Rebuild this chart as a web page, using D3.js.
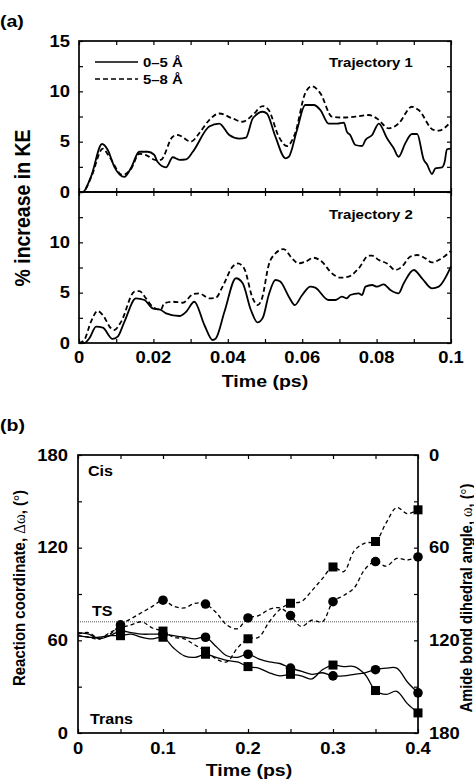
<!DOCTYPE html>
<html>
<head>
<meta charset="utf-8">
<script src="https://cdn.jsdelivr.net/npm/d3@7"></script>
<style>
  body { margin: 0; background: #fff; }
  svg { display: block; font-family: "Liberation Sans", Arial, sans-serif; font-weight: bold; }
</style>
</head>
<body>
<div id="chart"></div>
<script>
// ---- panel (a): % increase in KE, [time (ps), value]
const traj1Inner = [[0,0],[0.001,0],[0.0032,1.5],[0.0062,4.77],[0.0077,4.2],[0.0095,2.5],[0.0122,1.5],[0.014,2.4],[0.0162,4.0],[0.0185,4.0],[0.0202,3.7],[0.0211,3.0],[0.0234,2.45],[0.0252,3.45],[0.027,3.2],[0.0288,3.25],[0.0306,4.0],[0.035,6.5],[0.0377,6.8],[0.0404,5.66],[0.0431,5.3],[0.0449,5.4],[0.0467,7.3],[0.0494,7.97],[0.0505,7.8],[0.0528,5.5],[0.0555,3.35],[0.0564,3.5],[0.0586,6.16],[0.0608,8.64],[0.0631,8.64],[0.0649,8.14],[0.0671,6.8],[0.0694,6.8],[0.0712,6.9],[0.072,6.0],[0.0729,5.66],[0.0743,4.67],[0.0761,4.57],[0.077,5.16],[0.0788,5.66],[0.0806,6.8],[0.0828,5.33],[0.0846,4.34],[0.0859,3.5],[0.0877,4.83],[0.0895,5.76],[0.0909,5.76],[0.0927,3.18],[0.0935,2.78],[0.0949,1.79],[0.0958,2.35],[0.0976,2.45],[0.0983,3.0],[0.0989,4.24],[0.1,4.3]];
const traj1Outer = [[0,0],[0.001,0],[0.0032,1.4],[0.0064,4.3],[0.008,3.6],[0.0117,1.69],[0.014,2.3],[0.0162,3.8],[0.018,3.67],[0.0207,3.18],[0.022,3.2],[0.0252,5.5],[0.0265,5.66],[0.0301,5.0],[0.0323,5.83],[0.035,7.15],[0.0377,7.8],[0.0413,7.3],[0.044,6.98],[0.0467,7.65],[0.0494,8.54],[0.051,8.14],[0.0537,5.5],[0.0559,4.57],[0.0581,5.83],[0.0608,9.8],[0.0626,10.5],[0.0649,9.8],[0.068,7.48],[0.0707,7.4],[0.0743,7.48],[0.0779,7.65],[0.0801,7.3],[0.0833,6.32],[0.0859,6.8],[0.0895,8.47],[0.0913,8.14],[0.0953,6.16],[0.0967,6.1],[0.1,7.0]];
const traj2Inner = [[0,0],[0.0014,0],[0.0028,0.47],[0.0046,1.62],[0.0064,1.52],[0.009,0.4],[0.0104,0.63],[0.0122,2.1],[0.0153,4.44],[0.0176,4.27],[0.0198,3.44],[0.022,3.28],[0.0234,2.95],[0.027,2.68],[0.0288,3.1],[0.031,4.1],[0.0337,1.79],[0.0359,0.3],[0.0368,0.47],[0.0391,3.1],[0.0422,6.43],[0.044,5.93],[0.0462,3.28],[0.048,2.05],[0.0494,2.5],[0.051,4.77],[0.0528,6.26],[0.0541,6.1],[0.0564,4.6],[0.058,3.77],[0.06,4.77],[0.0622,5.6],[0.0635,5.5],[0.0671,4.27],[0.0689,4.27],[0.0707,4.6],[0.072,4.44],[0.0729,4.77],[0.0752,4.93],[0.0761,4.77],[0.077,5.6],[0.0788,5.76],[0.0801,5.6],[0.0819,5.83],[0.0837,5.26],[0.0859,4.93],[0.0873,5.93],[0.09,7.25],[0.0922,6.43],[0.0949,5.43],[0.0967,5.6],[0.1,7.6]];
const traj2Outer = [[0,0],[0.0014,0.3],[0.0032,2.1],[0.005,3.18],[0.0064,2.78],[0.0086,1.46],[0.0095,1.29],[0.0113,2.1],[0.0149,5.1],[0.0162,5.16],[0.018,4.44],[0.0198,3.6],[0.022,3.3],[0.0229,3.94],[0.0252,4.1],[0.0279,4.0],[0.0306,4.84],[0.0323,4.93],[0.035,4.44],[0.0368,4.5],[0.0386,5.6],[0.0413,7.58],[0.0427,7.9],[0.0444,7.4],[0.0467,4.44],[0.048,3.77],[0.0492,4.44],[0.051,7.75],[0.0528,8.9],[0.055,9.33],[0.0573,8.4],[0.059,7.9],[0.0608,8.07],[0.0631,8.47],[0.0653,8.07],[0.068,6.92],[0.0702,6.49],[0.0725,6.59],[0.0752,7.42],[0.0779,8.67],[0.0788,8.67],[0.0806,8.24],[0.0828,7.9],[0.085,7.25],[0.0868,7.58],[0.089,8.57],[0.0909,8.74],[0.0931,8.41],[0.0949,8.0],[0.0967,8.24],[0.1,9.14]];
const legendLabels = ["0\u20135 \u00c5", "5\u20138 \u00c5"];
const panelTitles = ["Trajectory 1", "Trajectory 2"];
const xTicksA = [0, 0.02, 0.04, 0.06, 0.08, 0.1];

// ---- panel (b): reaction coordinate (deg) sampled every 0.0125 ps
const timeB = [0,0.0125,0.025,0.0375,0.05,0.0625,0.075,0.0875,0.1,0.1125,0.125,0.1375,0.15,0.1625,0.175,0.1875,0.2,0.2125,0.225,0.2375,0.25,0.2625,0.275,0.2875,0.3,0.3125,0.325,0.3375,0.35,0.3625,0.375,0.3875,0.4];
const cisCircle  = [64,65,61,64,70,74,78,82,86,82,81,84,83.5,78,70,67.5,74.5,76,80,81,76,69,73,72,85,89,94,106,111,108,113,112,114];
const cisSquare  = [63,62,61,65,68,70,72,68,66,62,61,57,53,48,46,55,61,62,72,80,84,85,92,100,107.5,104.5,118,123,124,136,146,142,144.5];
const transCircle = [65,64,61,63,66,65,64,64,64,63,62,61,62,56,50,49,51,48,46,45,42,40,38,39,37,37,38,39,41,42,42,33,26];
const transSquare = [63,62,62,63,63,64,62,61,62,55,50,49,51,49,47,46,43,42,39,37,38,37,35,41,44,43,43,38,27.5,25,27,19,13];
const markerTimes = [0.05, 0.1, 0.15, 0.2, 0.25, 0.3, 0.35, 0.4];
const tsValue = 72;
const xTicksB = [0, 0.1, 0.2, 0.3, 0.4];
const yTicksB = [0, 60, 120, 180];

const W = 474, H = 779;
const SX = 1.15; // the original lettering is a little wide
const svg = d3.select("#chart").append("svg")
  .attr("width", W).attr("height", H)
  .attr("viewBox", `0 0 ${W} ${H}`);

const fmt = d => String(+d.toFixed(2));

// horizontal label, slightly stretched
function label(x, y, txt, size, anchor) {
  return svg.append("text")
    .attr("transform", `translate(${x},${y}) scale(${SX},1)`)
    .attr("text-anchor", anchor || "start")
    .attr("font-size", size)
    .text(txt);
}

// ---------- panel (a)
const xA = d3.scaleLinear().domain([0, 0.1]).range([79, 451]);
const yTop = d3.scaleLinear().domain([0, 15]).range([192, 41]);
const yBot = d3.scaleLinear().domain([0, 15]).range([343, 192]);
const minorA = d3.range(0, 0.1001, 0.01);
const minorY = d3.range(0, 15.01, 2.5);

label(0, 27, "(a)", 17);

function tickAxis(axis, ticks, size) {
  return axis.tickValues(ticks).tickSize(size).tickFormat("");
}

function framePanel(y, showTopLabel) {
  const g = svg.append("g");
  const [y0, y1] = y.range();
  // inward ticks on all sides
  g.append("g").attr("transform", `translate(0,${y0})`)
    .call(tickAxis(d3.axisTop(xA), minorA, 4));
  g.append("g").attr("transform", `translate(0,${y1})`)
    .call(tickAxis(d3.axisBottom(xA), minorA, 4));
  g.append("g").attr("transform", `translate(${xA.range()[0]},0)`)
    .call(tickAxis(d3.axisRight(y), minorY, 4));
  g.append("g").attr("transform", `translate(${xA.range()[1]},0)`)
    .call(tickAxis(d3.axisLeft(y), minorY, 4));
  g.selectAll(".domain").remove();
  g.selectAll(".tick line").attr("stroke", "#000").attr("stroke-width", 1.2);

  const labels = showTopLabel ? [0, 5, 10, 15] : [0, 5, 10];
  labels.forEach(d => label(70, y(d) + 5.8, d, 16, "end"));

  g.append("rect")
    .attr("x", xA.range()[0]).attr("y", y1)
    .attr("width", xA.range()[1] - xA.range()[0]).attr("height", y0 - y1)
    .attr("fill", "none").attr("stroke", "#000").attr("stroke-width", 1.7);
}

function drawKE(data, y, dashed) {
  const line = d3.line().x(d => xA(d[0])).y(d => y(d[1])).curve(d3.curveMonotoneX);
  svg.append("path")
    .attr("d", line(data))
    .attr("fill", "none")
    .attr("stroke", "#000")
    .attr("stroke-width", 1.8)
    .attr("stroke-dasharray", dashed ? "5,3" : null);
}

framePanel(yTop, true);
framePanel(yBot, false);
drawKE(traj1Inner, yTop, false);
drawKE(traj1Outer, yTop, true);
drawKE(traj2Inner, yBot, false);
drawKE(traj2Outer, yBot, true);

xTicksA.forEach(d => label(xA(d), 363, fmt(d), 16, "middle"));
label(265, 387, "Time (ps)", 17, "middle");

svg.append("text")
  .attr("transform", "translate(30,208) rotate(-90) scale(1,1.1)")
  .attr("text-anchor", "middle").attr("font-size", 19.5)
  .text("% increase in KE");

// legend
legendLabels.forEach((lab, i) => {
  const ly = 62 + i * 17;
  svg.append("line")
    .attr("x1", 95).attr("x2", 138).attr("y1", ly).attr("y2", ly)
    .attr("stroke", "#000").attr("stroke-width", 1.6)
    .attr("stroke-dasharray", i ? "5,3" : null);
  label(143, ly + 5, lab, 13);
});

label(329, 67, panelTitles[0], 13);
label(329, 219, panelTitles[1], 13);

// ---------- panel (b)
const xB = d3.scaleLinear().domain([0, 0.4]).range([78, 418]);
const yB = d3.scaleLinear().domain([0, 180]).range([733, 455]);
const yR = d3.scaleLinear().domain([0, 180]).range([455, 733]);

label(0, 431, "(b)", 17);

const gb = svg.append("g");
const minorB = d3.range(0, 0.4001, 0.05);
const minorBY = d3.range(0, 180.1, 30);
gb.append("g").attr("transform", "translate(0,733)").call(tickAxis(d3.axisTop(xB), minorB, 4));
gb.append("g").attr("transform", "translate(0,455)").call(tickAxis(d3.axisBottom(xB), minorB, 4));
gb.append("g").attr("transform", "translate(78,0)").call(tickAxis(d3.axisRight(yB), minorBY, 4));
gb.append("g").attr("transform", "translate(418,0)").call(tickAxis(d3.axisLeft(yR), minorBY, 4));
gb.selectAll(".domain").remove();
gb.selectAll(".tick line").attr("stroke", "#000").attr("stroke-width", 1.2);

gb.append("line")
  .attr("x1", xB(0)).attr("x2", xB(0.4))
  .attr("y1", yB(tsValue)).attr("y2", yB(tsValue))
  .attr("stroke", "#555").attr("stroke-width", 1).attr("stroke-dasharray", "1,1");

const lineB = vals => d3.line()
  .x((d, i) => xB(timeB[i])).y(d => yB(d))
  .curve(d3.curveCatmullRom)(vals);

const seriesB = [
  { vals: cisSquare, dashed: true, marker: "square" },
  { vals: cisCircle, dashed: true, marker: "circle" },
  { vals: transSquare, dashed: false, marker: "square" },
  { vals: transCircle, dashed: false, marker: "circle" }
];

seriesB.forEach(s => {
  gb.append("path")
    .attr("d", lineB(s.vals))
    .attr("fill", "none").attr("stroke", "#000")
    .attr("stroke-width", 1.3)
    .attr("stroke-dasharray", s.dashed ? "4,3" : null);
});

seriesB.forEach(s => {
  const pts = markerTimes.map(t => [t, s.vals[timeB.indexOf(t)]]);
  if (s.marker === "circle") {
    gb.selectAll(null).data(pts).join("circle")
      .attr("cx", d => xB(d[0])).attr("cy", d => yB(d[1])).attr("r", 4.8)
      .attr("fill", "#000");
  } else {
    gb.selectAll(null).data(pts).join("rect")
      .attr("x", d => xB(d[0]) - 4.5).attr("y", d => yB(d[1]) - 4.5)
      .attr("width", 9).attr("height", 9).attr("fill", "#000");
  }
});

gb.append("rect")
  .attr("x", 78).attr("y", 455).attr("width", 340).attr("height", 278)
  .attr("fill", "none").attr("stroke", "#000").attr("stroke-width", 1.7);

yTicksB.forEach(d => label(68, yB(d) + 5.8, d, 16, "end"));
yTicksB.forEach(d => label(429, yR(d) + 5.8, d, 16));
xTicksB.forEach(d => label(xB(d), 754, fmt(d), 16, "middle"));
label(249, 776, "Time (ps)", 17, "middle");

label(88, 476, "Cis", 14);
label(92, 616, "TS", 14);
label(90, 724, "Trans", 14);

function vTitle(x, cy, parts, size) {
  const t = svg.append("text")
    .attr("transform", `translate(${x},${cy}) rotate(-90) scale(1,1.1)`)
    .attr("text-anchor", "middle").attr("font-size", size);
  parts.forEach(([txt, serif]) => {
    const sp = t.append("tspan").text(txt);
    if (serif) sp.attr("font-family", "Liberation Serif, serif").attr("font-weight", "normal");
  });
}

vTitle(25, 588, [["Reaction coordinate, "], ["\u0394\u03c9", true], [", ("], ["\u00b0", true], [")"]], 15);
vTitle(472, 598, [["Amide bond dihedral angle, "], ["\u03c9", true], [", ("], ["\u00b0", true], [")"]], 14.6);
</script>
</body>
</html>
